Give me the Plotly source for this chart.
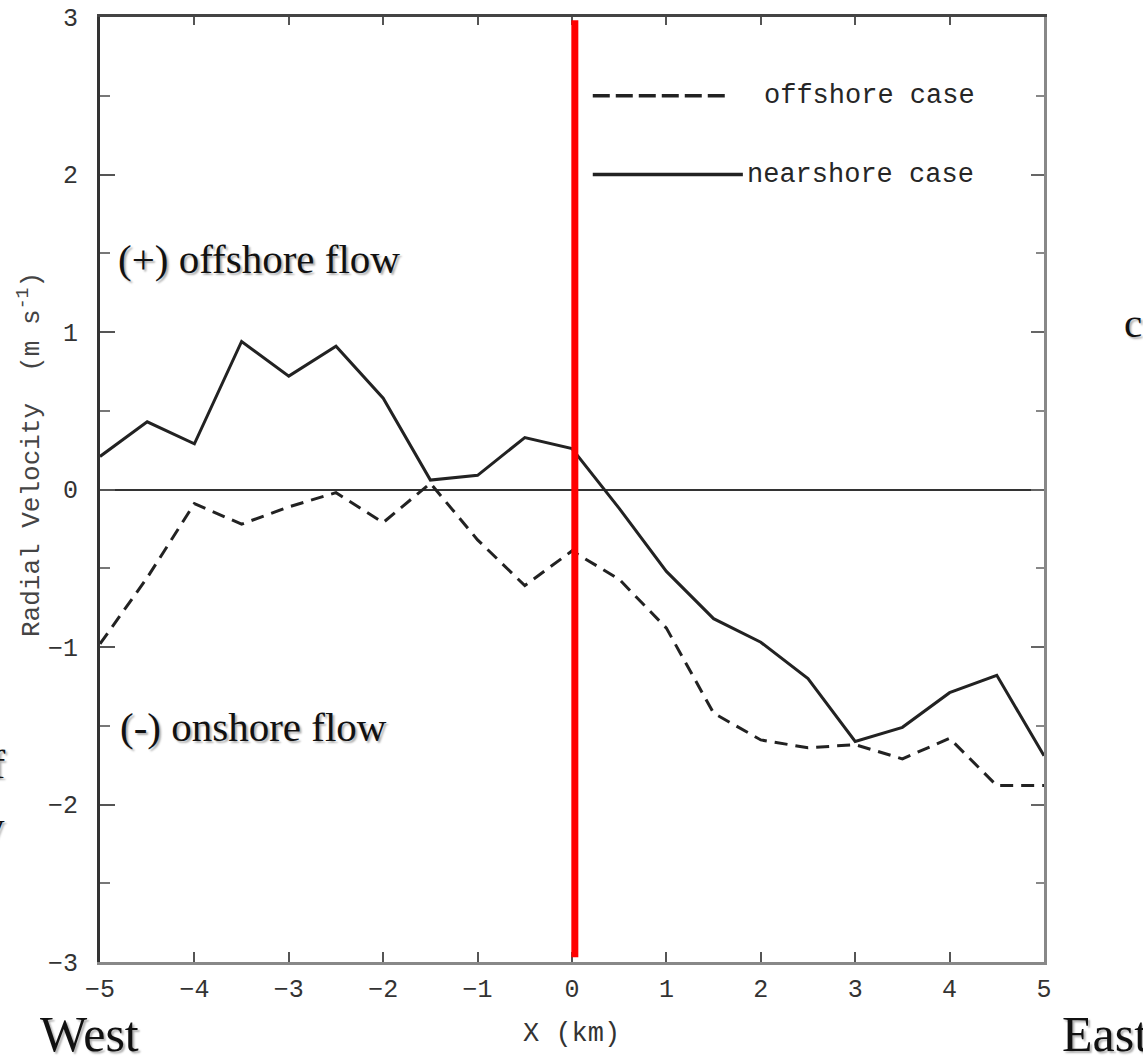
import plotly.graph_objects as go

# ---- data ----
x_km = [-5, -4.5, -4, -3.5, -3, -2.5, -2, -1.5, -1, -0.5, 0,
        0.5, 1, 1.5, 2, 2.5, 3, 3.5, 4, 4.5, 5]
nearshore = [0.21, 0.43, 0.29, 0.94, 0.72, 0.91, 0.58, 0.06, 0.09, 0.33, 0.26,
             -0.12, -0.52, -0.82, -0.97, -1.20, -1.60, -1.51, -1.29, -1.18, -1.69]
offshore = [-0.98, -0.56, -0.09, -0.22, -0.11, -0.02, -0.21, 0.04, -0.32, -0.61, -0.39,
            -0.57, -0.88, -1.42, -1.59, -1.64, -1.62, -1.71, -1.58, -1.88, -1.88]
shore_x = [0.03]
x_ticks = [-5, -4, -3, -2, -1, 0, 1, 2, 3, 4, 5]
y_ticks = [-3, -2, -1, 0, 1, 2, 3]
legend_names = ["offshore case", "nearshore case"]

# ---- layout geometry (pixels) ----
W, H = 1143, 1059
L, R, T, B = 100, 1044, 17, 962


def px(xp):
    return (xp - L) / (R - L)


def py(yp):
    return (B - yp) / (B - T)


MONO = "Liberation Mono, Courier New, monospace"
SERIF = "Liberation Serif, Times New Roman, serif"
INK = "#222222"

fig = go.Figure()
fig.add_trace(go.Scatter(x=x_km, y=offshore, mode="lines", name=legend_names[0],
                         line=dict(color=INK, width=3, dash="13px,8px"),
                         showlegend=False))
fig.add_trace(go.Scatter(x=x_km, y=nearshore, mode="lines", name=legend_names[1],
                         line=dict(color=INK, width=3), showlegend=False))
# helper trace so the mirror axes (top / right) are drawn
fig.add_trace(go.Scatter(x=[None], y=[None], xaxis="x2", yaxis="y2",
                         showlegend=False, hoverinfo="skip"))

fig.update_layout(
    width=W, height=H,
    margin=dict(l=L, r=W - R, t=T, b=H - B, autoexpand=False),
    paper_bgcolor="white", plot_bgcolor="white",
    showlegend=False,
    xaxis=dict(range=[-5, 5], tickvals=x_ticks, ticks="inside", ticklen=10,
               tickwidth=2, tickcolor="#555", showline=True, linecolor="#888",
               linewidth=3, showgrid=False, zeroline=False, automargin=False,
               tickfont=dict(family=MONO, size=25, color="#333"),
               ticklabelstandoff=2),
    yaxis=dict(range=[-3, 3], tickvals=y_ticks, ticks="inside", ticklen=15,
               tickwidth=2, tickcolor="#555", showline=True, linecolor="#333",
               linewidth=3, showgrid=False, zeroline=True, zerolinecolor="#333",
               zerolinewidth=2, automargin=False,
               minor=dict(dtick=0.5, ticks="inside", ticklen=10, tickwidth=2,
                          tickcolor="#777"),
               tickfont=dict(family=MONO, size=25, color="#333"),
               ticklabelstandoff=14),
    xaxis2=dict(range=[-5, 5], overlaying="x", side="top", anchor="y",
                tickvals=x_ticks, ticks="inside", ticklen=8, tickwidth=2,
                tickcolor="#555", showticklabels=False, showline=True,
                linecolor="#444", linewidth=3, showgrid=False, zeroline=False,
                automargin=False),
    yaxis2=dict(range=[-3, 3], overlaying="y", side="right", anchor="x",
                tickvals=y_ticks, ticks="inside", ticklen=13, tickwidth=2,
                tickcolor="#666", showticklabels=False, showline=True,
                linecolor="#888", linewidth=3, showgrid=False, zeroline=False,
                automargin=False,
                minor=dict(dtick=0.5, ticks="inside", ticklen=8, tickwidth=2,
                           tickcolor="#888")),
)

# red shore line
fig.add_shape(type="line", xref="x", yref="y", x0=shore_x[0], x1=shore_x[0],
              y0=-2.97, y1=2.98, line=dict(color="#ff0000", width=7))

# legend samples
fig.add_shape(type="line", xref="x", yref="y", x0=0.22, x1=1.64, y0=2.5, y1=2.5,
              line=dict(color=INK, width=3.5, dash="17px,6px"))
fig.add_shape(type="line", xref="x", yref="y", x0=0.22, x1=1.81, y0=2.0, y1=2.0,
              line=dict(color=INK, width=3.5))
fig.add_annotation(x=2.01, y=2.5, xref="x", yref="y", text=legend_names[0],
                   showarrow=False, xanchor="left", yanchor="middle",
                   font=dict(family=MONO, size=27, color="#262626"))
fig.add_annotation(x=1.83, y=2.0, xref="x", yref="y", text=legend_names[1],
                   showarrow=False, xanchor="left", yanchor="middle",
                   font=dict(family=MONO, size=27, color="#262626"))

# axis titles
fig.add_annotation(x=px(30), y=py(455), xref="paper", yref="paper",
                   text="Radial Velocity  (m s<sup>-1</sup>)", textangle=-90,
                   showarrow=False, xanchor="center", yanchor="middle",
                   font=dict(family=MONO, size=26, color="#444"))
fig.add_annotation(x=px(571), y=py(1034), xref="paper", yref="paper",
                   text="X (km)", showarrow=False, xanchor="center",
                   yanchor="middle", font=dict(family=MONO, size=27, color="#333"))

shadow = "2px 2px 2px #b0b0b0"
big = dict(family=SERIF, size=41, color="#111", shadow=shadow)
fig.add_annotation(x=px(116), y=py(259), xref="paper", yref="paper",
                   text="(+) offshore flow", showarrow=False, xanchor="left",
                   yanchor="middle", font=big)
fig.add_annotation(x=px(118), y=py(727), xref="paper", yref="paper",
                   text="(-) onshore flow", showarrow=False, xanchor="left",
                   yanchor="middle", font=big)
fig.add_annotation(x=px(38), y=py(1034), xref="paper", yref="paper",
                   text="West", showarrow=False, xanchor="left",
                   yanchor="middle", font=dict(family=SERIF, size=50, color="#111", shadow=shadow))
fig.add_annotation(x=px(1060), y=py(1034), xref="paper", yref="paper",
                   text="East", showarrow=False, xanchor="left",
                   yanchor="middle", font=dict(family=SERIF, size=50, color="#111", shadow=shadow))
fig.add_annotation(x=px(1122), y=py(323), xref="paper", yref="paper",
                   text="c", showarrow=False, xanchor="left",
                   yanchor="middle", font=big)
fig.add_annotation(x=px(8), y=py(764), xref="paper", yref="paper",
                   text="of", showarrow=False, xanchor="right",
                   yanchor="middle", font=big)
fig.add_annotation(x=px(7), y=py(826), xref="paper", yref="paper",
                   text="y", showarrow=False, xanchor="right",
                   yanchor="middle", font=big)

fig.write_html("out.html",
               config={"displayModeBar": False},
               post_script="document.body.style.margin='0';"
                           "document.body.style.padding='0';")
